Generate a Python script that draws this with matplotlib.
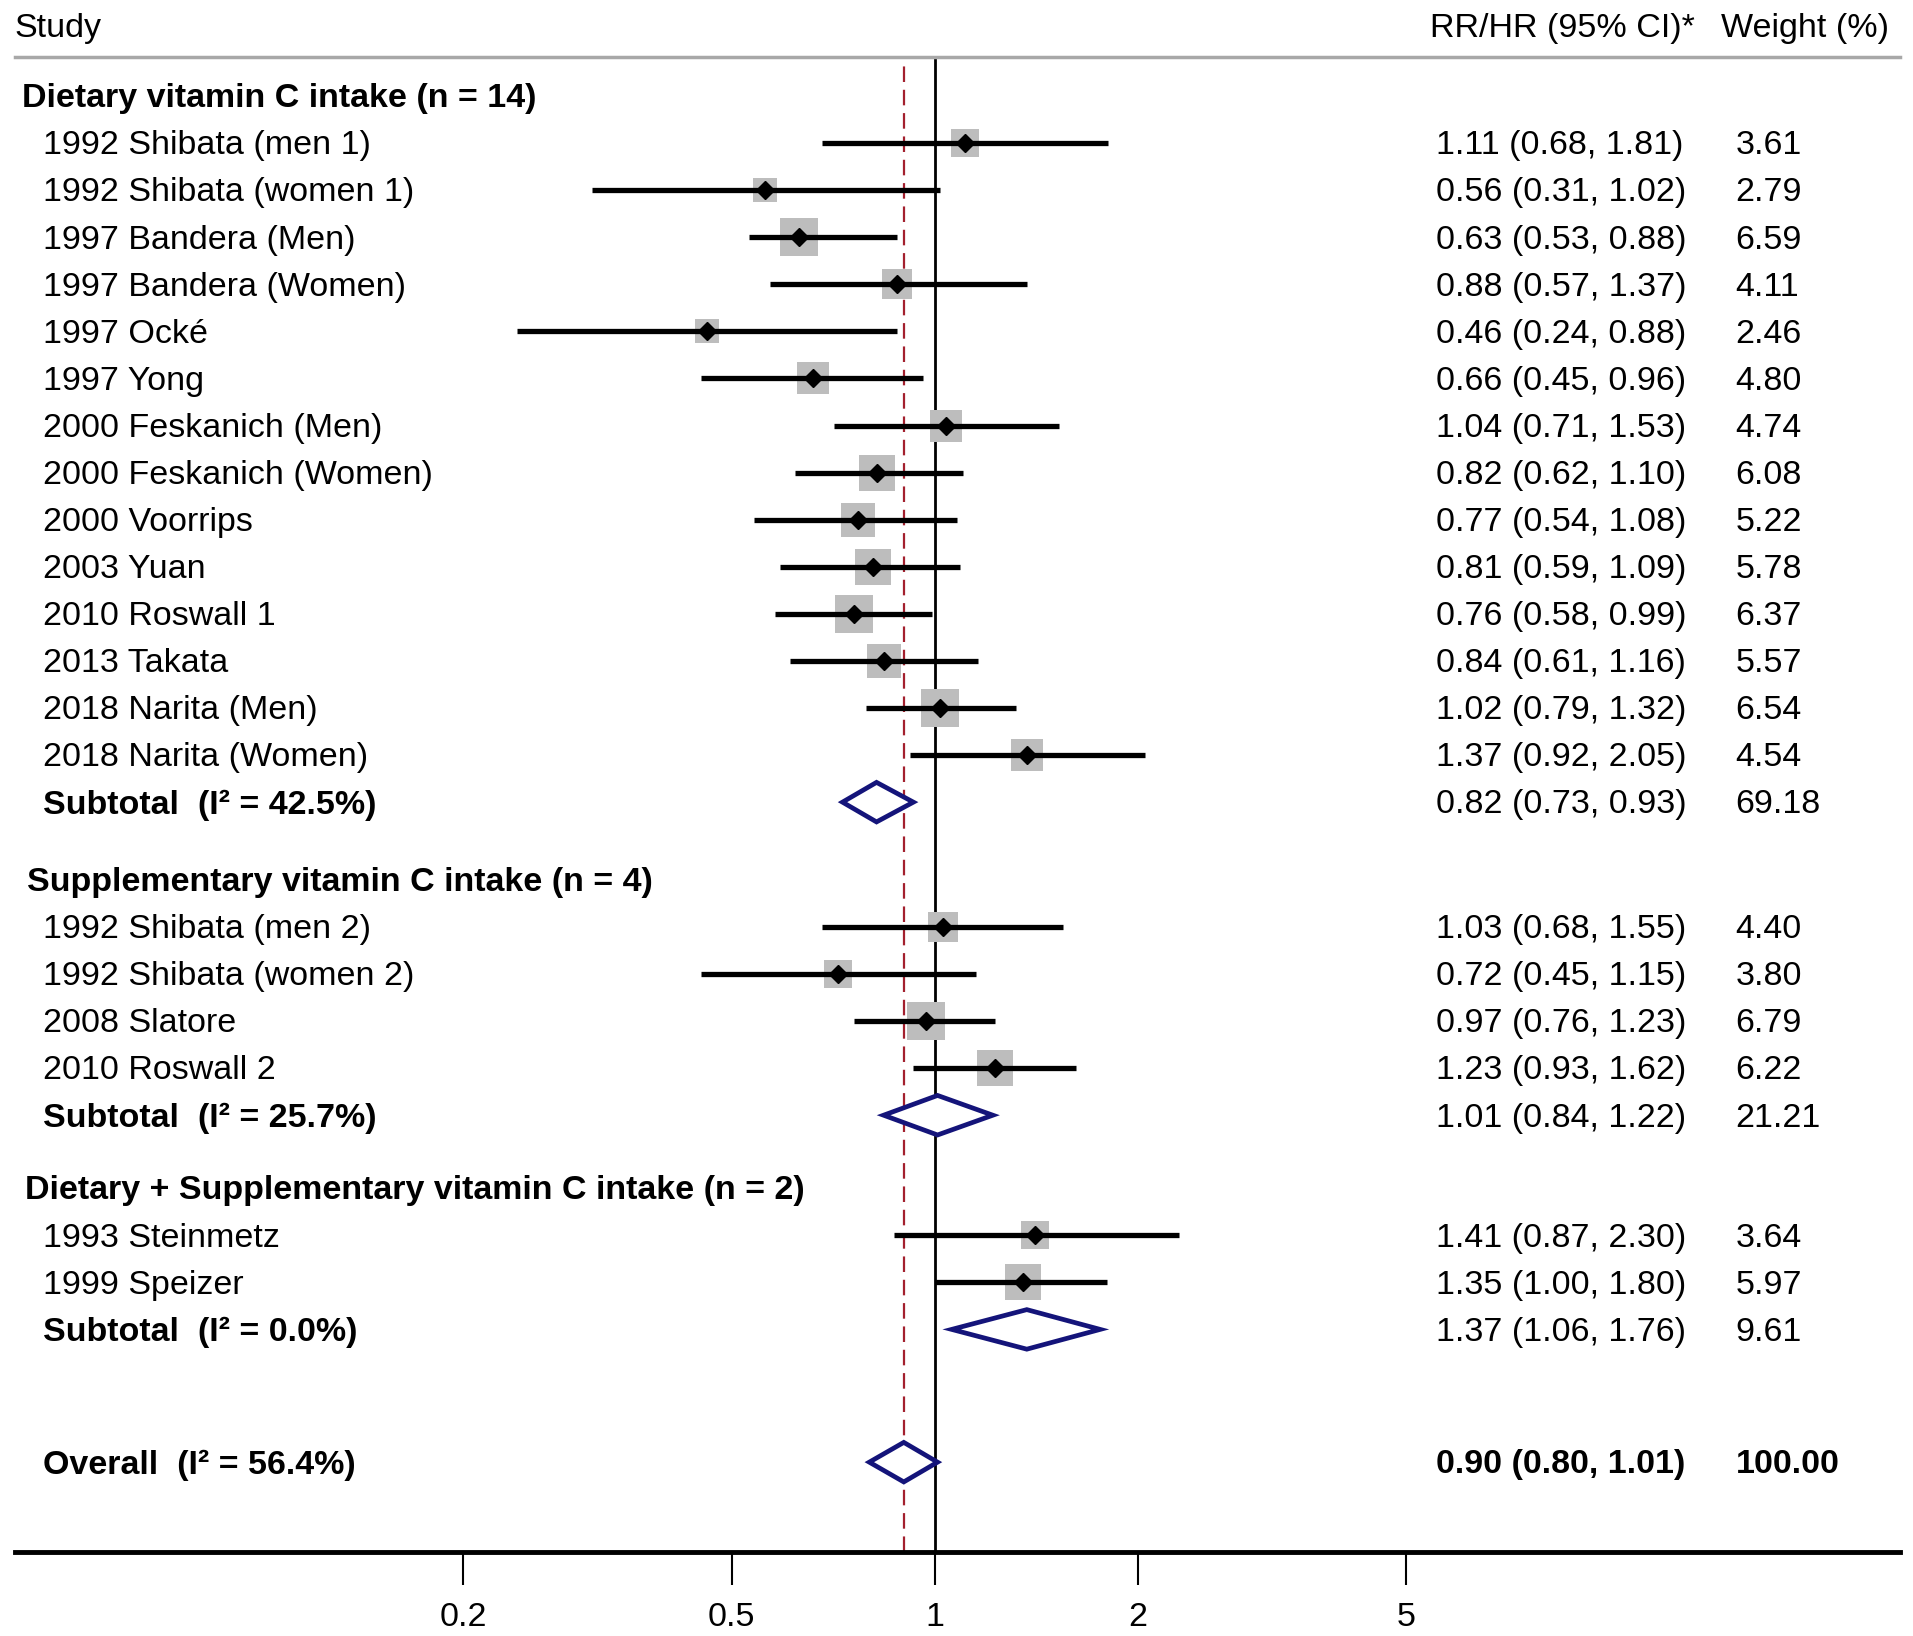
import numpy as np
import matplotlib
matplotlib.use("Agg")
import matplotlib.pyplot as plt
from matplotlib.patches import Polygon

plt.rcParams['font.family'] = ['Liberation Sans', 'DejaVu Sans']

# --- Data ---
group_titles = ["Dietary vitamin C intake (n = 14)",
                "Supplementary vitamin C intake (n = 4)",
                "Dietary + Supplementary vitamin C intake (n = 2)"]

diet_names = ["1992 Shibata (men 1)", "1992 Shibata (women 1)", "1997 Bandera (Men)",
              "1997 Bandera (Women)", "1997 Ocké", "1997 Yong", "2000 Feskanich (Men)",
              "2000 Feskanich (Women)", "2000 Voorrips", "2003 Yuan", "2010 Roswall 1",
              "2013 Takata", "2018 Narita (Men)", "2018 Narita (Women)"]
diet_rr = [1.11, 0.56, 0.63, 0.88, 0.46, 0.66, 1.04, 0.82, 0.77, 0.81, 0.76, 0.84, 1.02, 1.37]
diet_lo = [0.68, 0.31, 0.53, 0.57, 0.24, 0.45, 0.71, 0.62, 0.54, 0.59, 0.58, 0.61, 0.79, 0.92]
diet_hi = [1.81, 1.02, 0.88, 1.37, 0.88, 0.96, 1.53, 1.10, 1.08, 1.09, 0.99, 1.16, 1.32, 2.05]
diet_w = [3.61, 2.79, 6.59, 4.11, 2.46, 4.80, 4.74, 6.08, 5.22, 5.78, 6.37, 5.57, 6.54, 4.54]

supp_names = ["1992 Shibata (men 2)", "1992 Shibata (women 2)", "2008 Slatore", "2010 Roswall 2"]
supp_rr = [1.03, 0.72, 0.97, 1.23]
supp_lo = [0.68, 0.45, 0.76, 0.93]
supp_hi = [1.55, 1.15, 1.23, 1.62]
supp_w = [4.40, 3.80, 6.79, 6.22]

both_names = ["1993 Steinmetz", "1999 Speizer"]
both_rr = [1.41, 1.35]
both_lo = [0.87, 1.00]
both_hi = [2.30, 1.80]
both_w = [3.64, 5.97]

sub_labels = ["Subtotal  (I² = 42.5%)", "Subtotal  (I² = 25.7%)", "Subtotal  (I² = 0.0%)"]
sub_rr = [0.82, 1.01, 1.37]
sub_lo = [0.73, 0.84, 1.06]
sub_hi = [0.93, 1.22, 1.76]
sub_w = [69.18, 21.21, 9.61]

overall_label = "Overall  (I² = 56.4%)"
overall_rr, overall_lo, overall_hi, overall_w = 0.90, 0.80, 1.01, 100.00

xticks = [0.2, 0.5, 1, 2, 5]
xtick_labels = ["0.2", "0.5", "1", "2", "5"]

groups = [(diet_names, diet_rr, diet_lo, diet_hi, diet_w),
          (supp_names, supp_rr, supp_lo, supp_hi, supp_w),
          (both_names, both_rr, both_lo, both_hi, both_w)]

# --- Layout ---
fig = plt.figure(figsize=(19.13, 16.36), dpi=100)
ax = fig.add_axes([0.0077, 0.0513, 0.9853, 0.9139])
ax.set_xscale('log')
ax.set_xlim(0.0432, 27.0)
ax.set_ylim(30.93, -0.83)

tr = ax.get_yaxis_transform()
fs = 24.5
x_study = 0.0149
x_est = 0.754
x_wt = 0.913
head_x = [0.0039, 0.0065, 0.0052]
diamond_h = 0.42
dy = 0.06  # nudge text down a touch so glyphs sit on the row centre
navy = '#14147A'


def draw_diamond(y, est, lo, hi):
    pts = [(lo, y), (est, y - diamond_h), (hi, y), (est, y + diamond_h)]
    ax.add_patch(Polygon(pts, closed=True, facecolor='white', edgecolor=navy,
                         linewidth=3.4, zorder=4))


def row_text(x, y, s, bold=False):
    ax.text(x, y + dy, s, transform=tr, fontsize=fs, va='center', ha='left',
            fontweight='bold' if bold else 'normal')


y = 0.0
gaps = [1.65, 1.55]
for gi, (names, rr, lo, hi, w) in enumerate(groups):
    row_text(head_x[gi], y, group_titles[gi], bold=True)
    for name, r, l, h, wt in zip(names, rr, lo, hi, w):
        y += 1
        ax.plot([r], [y], marker='s', markersize=10.6 * np.sqrt(wt),
                color='#BDBDBD', markeredgewidth=0, zorder=2)
        ax.plot([l, h], [y, y], color='black', linewidth=3.8,
                solid_capstyle='butt', zorder=3)
        ax.plot([r], [y], marker='D', markersize=9, color='black', zorder=5)
        row_text(x_study, y, name)
        row_text(x_est, y, f"{r:.2f} ({l:.2f}, {h:.2f})")
        row_text(x_wt, y, f"{wt:.2f}")
    y += 1
    draw_diamond(y, sub_rr[gi], sub_lo[gi], sub_hi[gi])
    row_text(x_study, y, sub_labels[gi], bold=True)
    row_text(x_est, y, f"{sub_rr[gi]:.2f} ({sub_lo[gi]:.2f}, {sub_hi[gi]:.2f})")
    row_text(x_wt, y, f"{sub_w[gi]:.2f}")
    if gi < len(gaps):
        y += gaps[gi]

y += 2.82
draw_diamond(y, overall_rr, overall_lo, overall_hi)
row_text(x_study, y, overall_label, bold=True)
row_text(x_est, y, f"{overall_rr:.2f} ({overall_lo:.2f}, {overall_hi:.2f})", bold=True)
row_text(x_wt, y, f"{overall_w:.2f}", bold=True)

# reference lines
ax.axvline(1, color='black', linewidth=2, zorder=1)
ax.axvline(overall_rr, color='#A3202E', linewidth=1.6, linestyle=(0, (7, 3.5)), zorder=1)

# header
head_y = -1.50
row_text(0.0, head_y, "Study")
row_text(0.751, head_y, "RR/HR (95% CI)*")
row_text(0.905, head_y, "Weight (%)")

# axes styling
for side in ['left', 'right']:
    ax.spines[side].set_visible(False)
ax.spines['top'].set_color('#A8A8A8')
ax.spines['top'].set_linewidth(2.5)
ax.spines['bottom'].set_linewidth(3.5)
ax.set_yticks([])
ax.minorticks_off()
ax.set_xticks(xticks)
ax.set_xticklabels(xtick_labels)
ax.tick_params(axis='x', which='major', length=24, width=1.5, direction='out',
               labelsize=fs, pad=12)
ax.tick_params(axis='x', which='minor', length=0)

fig.savefig("out.png", dpi=100)
